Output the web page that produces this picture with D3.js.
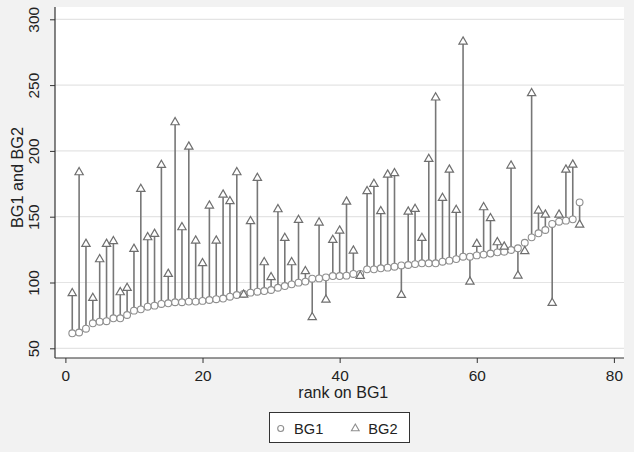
<!DOCTYPE html>
<html>
<head>
<meta charset="utf-8">
<script src="https://cdn.jsdelivr.net/npm/d3@7"></script>
<style>
html,body{margin:0;padding:0;background:#f2f2f2;}
svg{display:block;}
text{font-family:"Liberation Sans",Arial,sans-serif;fill:#222;}
</style>
</head>
<body>
<script>
const rank = d3.range(1, 76);
const bg1 = [61.4,62,64.9,69,70.2,70.6,72.8,72.8,75.3,78.6,79.6,81.6,82.4,83.7,84.2,85,85,85.5,85.5,86,
  86.7,87.3,87.8,89.2,90.5,91.3,92.3,93,93.5,94.3,96,97.3,98.6,99.9,100.7,102.9,103.1,103.9,104.9,104.9,
  105.2,106.5,106.5,110,110,110.8,111.3,112,113,113.3,114,114.6,114.6,114.6,115.8,116.6,117.8,119.6,119.6,120.6,
  121.2,122,122.9,123.4,124.7,126,130.2,134.3,137.4,139.9,144.5,146.2,147,148,160.9];
const bg2 = [91.8,183.7,129.3,88.2,117.6,129.3,131.3,92.5,95.8,125.5,171,134.3,136.9,189.3,106.5,221.7,141.9,203.2,131.8,114.6,
  158.4,131.8,166.7,161.7,183.7,90.7,146.5,179.4,115.3,104,155.6,133.8,115.3,147.5,108.5,73.6,145.5,86.9,132.3,139.4,
  161.4,124.2,104.9,169.3,174.8,154.1,181.9,183,90.5,153.8,155.8,133.8,193.8,240.5,164.2,185.7,155.1,283,100.6,129.3,
  157.1,148.8,130.5,127.2,188.8,105.2,123.7,243.8,154.6,151.5,84.4,151.5,185.7,189.5,143.9];
const xTicks = [0,20,40,60,80];
const yTicks = [50,100,150,200,250,300];
const seriesNames = ["BG1","BG2"];

const W = 634, H = 452;
const svg = d3.select("body").append("svg").attr("width", W).attr("height", H);
svg.append("rect").attr("width", W).attr("height", H).attr("fill", "#f2f2f2");

const plotL = 55, plotR = 624, plotT = 7, plotB = 358;
const x = d3.scaleLinear().domain([0, 80]).range([65.4, 613.9]);
const y = d3.scaleLinear().domain([50, 300]).range([348.3, 19.3]);

// fit a text element's font size so its length matches a target width
function fit(sel, target) {
  sel.each(function() {
    const fs = parseFloat(this.getAttribute("font-size"));
    const len = this.getComputedTextLength();
    if (len > 0) this.setAttribute("font-size", (fs * target / len).toFixed(2));
  });
}

svg.append("rect").attr("x", plotL).attr("y", plotT).attr("width", plotR - plotL).attr("height", plotB - plotT).attr("fill", "#fff");

// gridlines
svg.append("g").selectAll("line").data(yTicks).join("line")
  .attr("x1", plotL).attr("x2", plotR)
  .attr("y1", d => y(d)).attr("y2", d => y(d))
  .attr("stroke", "#e4e4e4").attr("stroke-width", 1.2);

// axes
const yAxis = svg.append("g").attr("transform", `translate(${plotL},0)`)
  .call(d3.axisLeft(y).tickValues(yTicks).tickSize(5).tickPadding(4).tickFormat(d3.format("d")));
yAxis.select(".domain").attr("d", `M0,${plotT}V${plotB}`).attr("stroke", "#333").attr("stroke-width", 1.2);
yAxis.selectAll(".tick line").attr("stroke", "#333");
yAxis.selectAll(".tick text")
  .attr("font-size", 14).attr("fill", "#222")
  .attr("transform", "rotate(-90)")
  .attr("x", 0).attr("y", -16.2).attr("dy", 0)
  .attr("text-anchor", "middle");
fit(yAxis.selectAll(".tick text").filter(d => d >= 100), 25.7);
fit(yAxis.selectAll(".tick text").filter(d => d < 100), 17.1);

const xAxis = svg.append("g").attr("transform", `translate(0,${plotB})`)
  .call(d3.axisBottom(x).tickValues(xTicks).tickSize(5).tickPadding(4).tickFormat(d3.format("d")));
xAxis.select(".domain").attr("d", `M${plotL},0H${plotR}`).attr("stroke", "#333").attr("stroke-width", 1.2);
xAxis.selectAll(".tick line").attr("stroke", "#333");
xAxis.selectAll(".tick text").attr("font-size", 15.4).attr("fill", "#222").attr("dy", 0).attr("y", 22.7);

// axis titles
svg.append("text").attr("x", 343.3).attr("y", 398.3)
  .attr("text-anchor", "middle").attr("font-size", 15).text("rank on BG1")
  .call(s => fit(s, 90));
svg.append("text").attr("transform", `translate(23,177.5) rotate(-90)`)
  .attr("text-anchor", "middle").attr("font-size", 15).text("BG1 and BG2")
  .call(s => fit(s, 101));

// spikes
const data = rank.map((r, i) => ({r, a: bg1[i], b: bg2[i]}));
svg.append("g").selectAll("line").data(data).join("line")
  .attr("x1", d => x(d.r)).attr("x2", d => x(d.r))
  .attr("y1", d => y(d.a)).attr("y2", d => y(d.b))
  .attr("stroke", "#777").attr("stroke-width", 1.6);

// BG1 circles
svg.append("g").selectAll("circle").data(data).join("circle")
  .attr("cx", d => x(d.r)).attr("cy", d => y(d.a)).attr("r", 3.4)
  .attr("fill", "#fff").attr("stroke", "#8e8e8e").attr("stroke-width", 1.1);

// BG2 triangles
const tri = d3.symbol().type(d3.symbolTriangle).size(30);
svg.append("g").selectAll("path").data(data).join("path")
  .attr("transform", d => `translate(${x(d.r)},${y(d.b)})`)
  .attr("d", tri)
  .attr("fill", "#fff").attr("stroke", "#6f6f6f").attr("stroke-width", 1.2);

// legend
const lg = svg.append("g");
lg.append("rect").attr("x", 269.5).attr("y", 412.5).attr("width", 140).attr("height", 30)
  .attr("fill", "#fff").attr("stroke", "#333").attr("stroke-width", 1);
lg.append("circle").attr("cx", 280.7).attr("cy", 428.5).attr("r", 3)
  .attr("fill", "#fff").attr("stroke", "#8e8e8e").attr("stroke-width", 1.1);
lg.append("text").attr("x", 294).attr("y", 434).attr("font-size", 14.5).text(seriesNames[0])
  .call(s => fit(s, 29.3));
lg.append("path").attr("transform", "translate(355.3,428.5)").attr("d", d3.symbol().type(d3.symbolTriangle).size(26))
  .attr("fill", "#fff").attr("stroke", "#8e8e8e").attr("stroke-width", 1.1);
lg.append("text").attr("x", 368.3).attr("y", 434).attr("font-size", 14.5).text(seriesNames[1])
  .call(s => fit(s, 29.3));
</script>
</body>
</html>
